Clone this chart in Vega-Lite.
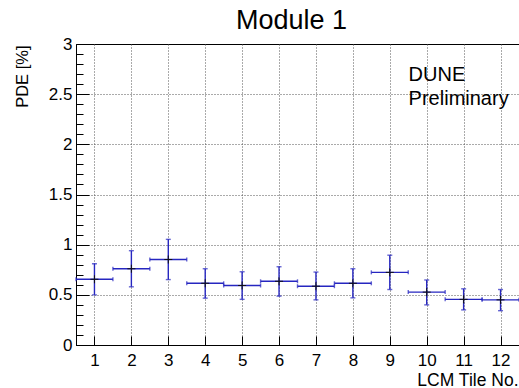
{
  "$schema": "https://vega.github.io/schema/vega-lite/v6.json",
  "autosize": "none",
  "width": 443,
  "height": 301,
  "padding": {"left": 76, "top": 44, "right": 0, "bottom": 43},
  "background": "white",
  "config": {
    "font": "Liberation Sans",
    "view": {"stroke": "#000", "strokeWidth": 1},
    "axis": {"domainColor": "#000", "tickColor": "#000", "labelColor": "#000", "titleColor": "#000", "titleFontWeight": "normal"}
  },
  "title": {"text": "Module 1", "fontSize": 27, "fontWeight": "normal", "anchor": "middle", "frame": "group", "dx": -6, "dy": 36, "baseline": "alphabetic", "offset": 15, "color": "#000"},
  "data": {"values": [
    {"tile": 1, "pde": 0.655, "lo": 0.500, "hi": 0.810, "xlo": 0.5, "xhi": 1.5},
    {"tile": 2, "pde": 0.760, "lo": 0.580, "hi": 0.940, "xlo": 1.5, "xhi": 2.5},
    {"tile": 3, "pde": 0.852, "lo": 0.652, "hi": 1.053, "xlo": 2.5, "xhi": 3.5},
    {"tile": 4, "pde": 0.615, "lo": 0.467, "hi": 0.760, "xlo": 3.5, "xhi": 4.5},
    {"tile": 5, "pde": 0.593, "lo": 0.455, "hi": 0.730, "xlo": 4.5, "xhi": 5.5},
    {"tile": 6, "pde": 0.635, "lo": 0.487, "hi": 0.780, "xlo": 5.5, "xhi": 6.5},
    {"tile": 7, "pde": 0.586, "lo": 0.450, "hi": 0.727, "xlo": 6.5, "xhi": 7.5},
    {"tile": 8, "pde": 0.615, "lo": 0.470, "hi": 0.760, "xlo": 7.5, "xhi": 8.5},
    {"tile": 9, "pde": 0.724, "lo": 0.553, "hi": 0.895, "xlo": 8.5, "xhi": 9.5},
    {"tile": 10, "pde": 0.527, "lo": 0.400, "hi": 0.648, "xlo": 9.5, "xhi": 10.5},
    {"tile": 11, "pde": 0.455, "lo": 0.350, "hi": 0.560, "xlo": 10.5, "xhi": 11.5},
    {"tile": 12, "pde": 0.450, "lo": 0.342, "hi": 0.553, "xlo": 11.5, "xhi": 12.5}
  ]},
  "resolve": {"axis": {"y": "independent"}},
  "layer": [
    {
      "mark": {"type": "rule", "color": "#2626c0", "strokeWidth": 1.4},
      "encoding": {
        "x": {"field": "xlo", "type": "quantitative",
          "scale": {"domain": [0.5, 12.5], "nice": false, "zero": false},
          "axis": {"values": [1,2,3,4,5,6,7,8,9,10,11,12], "format": "d", "tickSize": -9, "labelFontSize": 17, "labelPadding": 16, "labelOverlap": false,
            "grid": true, "gridColor": "#555", "gridDash": [1, 2], "gridWidth": 1,
            "title": "LCM Tile No.", "titleFontSize": 17.5, "titleAnchor": "end", "titleAlign": "right", "titleBaseline": "alphabetic", "titleX": 442, "titleY": 40}},
        "x2": {"field": "xhi"},
        "y": {"field": "pde", "type": "quantitative",
          "scale": {"domain": [0, 3], "nice": false, "zero": false},
          "axis": {"orient": "left", "values": [0, 0.5, 1, 1.5, 2, 2.5, 3], "tickSize": -13, "format": "~g",
            "labelFontSize": 17, "labelPadding": 17, "labelOverlap": false, "labelFlush": false, "labelBound": false,
            "grid": false,
            "title": "PDE [%]", "titleFontSize": 16.5, "titleAnchor": "end", "titleAlign": "right", "titleAngle": -90, "titleBaseline": "alphabetic", "titleX": -48.5, "titleY": 1}}
      }
    },
    {
      "mark": {"type": "rule", "color": "#2626c0", "strokeWidth": 1.4},
      "encoding": {
        "x": {"field": "tile", "type": "quantitative"},
        "y": {"field": "lo", "type": "quantitative",
          "axis": {"orient": "left", "values": [0,0.1,0.2,0.3,0.4,0.6,0.7,0.8,0.9,1.1,1.2,1.3,1.4,1.6,1.7,1.8,1.9,2.1,2.2,2.3,2.4,2.6,2.7,2.8,2.9],
            "tickSize": -7, "labels": false, "domain": false, "grid": false, "title": null}},
        "y2": {"field": "hi"}
      }
    },
    {
      "mark": {"type": "tick", "orient": "horizontal", "color": "#2626c0", "size": 5, "thickness": 1.4},
      "encoding": {
        "x": {"field": "tile", "type": "quantitative"},
        "y": {"field": "lo", "type": "quantitative",
          "axis": {"orient": "left", "values": [0.5, 1, 1.5, 2, 2.5], "ticks": false, "labels": false, "domain": false, "title": null,
            "grid": true, "gridColor": "#555", "gridDash": [1, 2], "gridWidth": 1}}
      }
    },
    {
      "mark": {"type": "tick", "orient": "horizontal", "color": "#2626c0", "size": 5, "thickness": 1.4},
      "encoding": {
        "x": {"field": "tile", "type": "quantitative"},
        "y": {"field": "hi", "type": "quantitative", "axis": null}
      }
    },
    {
      "mark": {"type": "tick", "orient": "vertical", "color": "#2626c0", "size": 4, "thickness": 1.4},
      "encoding": {
        "x": {"field": "xlo", "type": "quantitative"},
        "y": {"field": "pde", "type": "quantitative", "axis": null}
      }
    },
    {
      "mark": {"type": "tick", "orient": "vertical", "color": "#2626c0", "size": 4, "thickness": 1.4},
      "encoding": {
        "x": {"field": "xhi", "type": "quantitative"},
        "y": {"field": "pde", "type": "quantitative", "axis": null}
      }
    },
    {
      "mark": {"type": "point", "shape": "M-1,0L1,0M0,-1L0,1", "size": 64, "stroke": "#111", "strokeWidth": 1, "filled": false, "opacity": 1},
      "encoding": {
        "x": {"field": "tile", "type": "quantitative"},
        "y": {"field": "pde", "type": "quantitative", "axis": null}
      }
    },
    {
      "data": {"values": [
        {"tx": 9.51, "ty": 2.634, "label": "DUNE"},
        {"tx": 9.51, "ty": 2.392, "label": "Preliminary"}
      ]},
      "mark": {"type": "text", "align": "left", "baseline": "alphabetic", "fontSize": 20, "color": "#000"},
      "encoding": {
        "x": {"field": "tx", "type": "quantitative"},
        "y": {"field": "ty", "type": "quantitative", "axis": null},
        "text": {"field": "label"}
      }
    }
  ]
}
